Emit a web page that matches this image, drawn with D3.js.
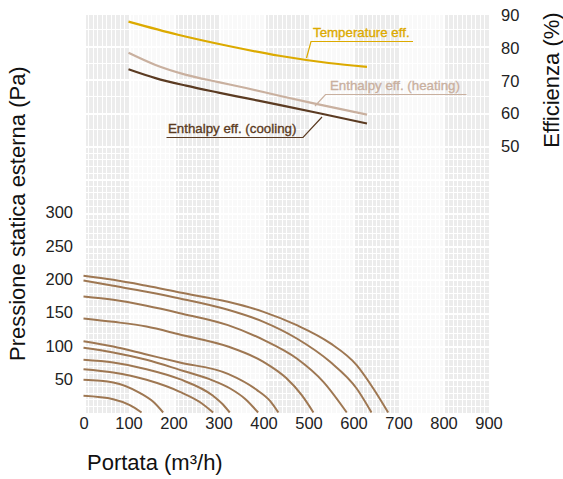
<!DOCTYPE html>
<html>
<head>
<meta charset="utf-8">
<script src="https://cdn.jsdelivr.net/npm/d3@7"></script>
<style>
  body { margin: 0; background: #fff; }
  text { font-family: "Liberation Sans", Arial, sans-serif; }
</style>
</head>
<body>
<svg id="chart" width="563" height="479"></svg>
<script>
    const width = 563;
    const height = 479;

    // axis ticks
    const flowTicks = [0, 100, 200, 300, 400, 500, 600, 700, 800, 900];
    const pressTicks = [50, 100, 150, 200, 250, 300];
    const effTicks = [50, 60, 70, 80, 90];

    // fan curves (flow m3/h, pressure Pa)
    const fanFlows = [
      [0, 66, 140, 214, 321, 400, 474, 548, 607, 644, 677],
      [0, 66, 140, 214, 321, 400, 474, 548, 607, 640],
      [0, 66, 140, 214, 321, 400, 474, 533, 585],
      [0, 66, 140, 214, 321, 400, 450, 485, 511],
      [0, 66, 140, 214, 321, 385, 415, 433],
      [0, 66, 140, 214, 280, 326, 360, 388],
      [0, 66, 140, 214, 288, 310, 325],
      [0, 66, 140, 214, 260, 288],
      [0, 66, 126, 155, 177],
      [0, 66, 103, 129]
    ];
    const fanPress = [
      [205, 199, 190, 180, 166, 151, 131, 104, 71, 36, 0],
      [198, 190, 181, 171, 154, 136, 111, 76, 36, 0],
      [174, 169, 160, 149, 131, 109, 81, 46, 0],
      [141, 136, 129, 117, 99, 76, 52, 26, 0],
      [107, 99, 87, 75, 58, 34, 17, 0],
      [97, 90, 79, 64, 50, 36, 20, 0],
      [79, 75, 65, 50, 25, 12, 0],
      [65, 60, 49, 31, 15, 0],
      [49, 45, 29, 16, 0],
      [25, 20, 11, 0]
    ];

    // efficiency curves (flow m3/h, %)
    const tempFlow = [100, 210, 325, 435, 545, 630];
    const tempEff = [88, 84, 80.5, 77.6, 75.4, 74.2];
    const heatFlow = [100, 160, 228, 300, 361, 440, 509, 630];
    const heatEff = [78.5, 74.8, 71.8, 69.6, 67.8, 65.3, 63.2, 59.7];
    const coolFlow = [100, 160, 228, 300, 361, 440, 524, 630];
    const coolEff = [73.5, 70.8, 68.5, 66.4, 64.7, 62.5, 60.1, 57];

    const svg = d3.select("#chart");

    const x = d3.scaleLinear().domain([0, 900]).range([83.5, 488.5]);
    const yP = d3.scaleLinear().domain([0, 600]).range([412.5, 12.5]);
    const yE = d3.scaleLinear().domain([50, 90]).range([146.5, 15]);

    // background grid: alternating bands of small cells
    const grid = svg.append("g").attr("shape-rendering", "crispEdges");
    grid.selectAll("rect.band")
        .data(d3.range(0, 900, 100))
        .join("rect")
            .attr("x", d => x(d))
            .attr("y", yP(600))
            .attr("width", x(100) - x(0))
            .attr("height", yP(0) - yP(600))
            .attr("fill", d => (d / 100) % 2 === 0 ? "#ececec" : "#f9f9f9");

    grid.selectAll("line.v")
        .data(d3.range(0, 901, 10))
        .join("line")
            .attr("x1", d => Math.round(x(d)) + 0.5)
            .attr("x2", d => Math.round(x(d)) + 0.5)
            .attr("y1", yP(600))
            .attr("y2", yP(0))
            .attr("stroke", "#fff")
            .attr("stroke-width", d => d % 100 === 0 ? 2 : 1);

    const rows = d3.range(0, 400, 10).concat(d3.range(400, 601, 25));
    grid.selectAll("line.h")
        .data(rows)
        .join("line")
            .attr("x1", x(0))
            .attr("x2", x(900))
            .attr("y1", d => Math.round(yP(d)) + 0.5)
            .attr("y2", d => Math.round(yP(d)) + 0.5)
            .attr("stroke", "#fff")
            .attr("stroke-width", d => d % 50 === 0 ? 2 : 1);

    // axes
    const tickFont = g => {
      g.select(".domain").remove();
      g.selectAll("text").attr("font-size", 16.5).attr("fill", "#222")
          .attr("font-family", "Liberation Sans, Arial, sans-serif");
    };

    svg.append("g")
        .attr("transform", "translate(0," + yP(0) + ")")
        .call(d3.axisBottom(x).tickValues(flowTicks).tickSize(0).tickPadding(5))
        .call(tickFont);

    svg.append("g")
        .attr("transform", "translate(" + x(0) + ",0)")
        .call(d3.axisLeft(yP).tickValues(pressTicks).tickSize(0).tickPadding(10.5))
        .call(tickFont);

    svg.append("g")
        .attr("transform", "translate(" + x(900) + ",0)")
        .call(d3.axisRight(yE).tickValues(effTicks).tickSize(0).tickPadding(12.5))
        .call(tickFont);

    // axis titles
    svg.append("text")
        .attr("x", 87).attr("y", 470)
        .attr("font-size", 22).attr("fill", "#111")
        .text("Portata (m³/h)");

    svg.append("text")
        .attr("transform", "translate(25,361) rotate(-90)")
        .attr("font-size", 22).attr("fill", "#111")
        .text("Pressione statica esterna (Pa)");

    svg.append("text")
        .attr("transform", "translate(559,80) rotate(-90)")
        .attr("text-anchor", "middle")
        .attr("font-size", 22).attr("fill", "#111")
        .text("Efficienza (%)");

    // fan curves
    const fanLine = d3.line()
        .x(d => x(d[0]))
        .y(d => yP(d[1]))
        .curve(d3.curveMonotoneX);

    svg.append("g")
        .selectAll("path")
        .data(fanFlows.map((f, i) => f.map((q, j) => [q, fanPress[i][j]])))
        .join("path")
            .attr("d", fanLine)
            .style("fill", "none")
            .style("stroke", "#9e7752")
            .style("stroke-width", 2);

    // efficiency curves
    const effLine = d3.line()
        .x(d => x(d[0]))
        .y(d => yE(d[1]))
        .curve(d3.curveMonotoneX);

    const effSeries = [
      { flow: tempFlow, eff: tempEff, color: "#dcaa00" },
      { flow: heatFlow, eff: heatEff, color: "#c9b09f" },
      { flow: coolFlow, eff: coolEff, color: "#5b3b22" }
    ];

    svg.append("g")
        .selectAll("path")
        .data(effSeries)
        .join("path")
            .attr("d", d => effLine(d.flow.map((q, j) => [q, d.eff[j]])))
            .style("fill", "none")
            .style("stroke", d => d.color)
            .style("stroke-width", 2.2);

    // labels with leader lines
    const labels = [
      { text: "Temperature eff.", color: "#dcaa00", tx: 313, ty: 37,
        pts: [[306.5, 58], [311, 41.5], [413, 41.5]] },
      { text: "Enthalpy eff. (heating)", color: "#c9b09f", tx: 330, ty: 89.5,
        pts: [[315, 106], [325.5, 94.5], [466.5, 94.5]] },
      { text: "Enthalpy eff. (cooling)", color: "#5b3b22", tx: 168, ty: 133,
        pts: [[166.5, 137.5], [303, 137.5], [322, 117]] }
    ];

    const ann = svg.append("g");
    ann.selectAll("path")
        .data(labels)
        .join("path")
            .attr("d", d => d3.line()(d.pts))
            .style("fill", "none")
            .style("stroke", d => d.color)
            .style("stroke-width", 1.2);

    ann.selectAll("text")
        .data(labels)
        .join("text")
            .attr("x", d => d.tx)
            .attr("y", d => d.ty)
            .attr("font-size", 13.3)
            .attr("fill", d => d.color)
            .attr("stroke", d => d.color)
            .attr("stroke-width", 0.35)
            .text(d => d.text);
</script>
</body>
</html>
